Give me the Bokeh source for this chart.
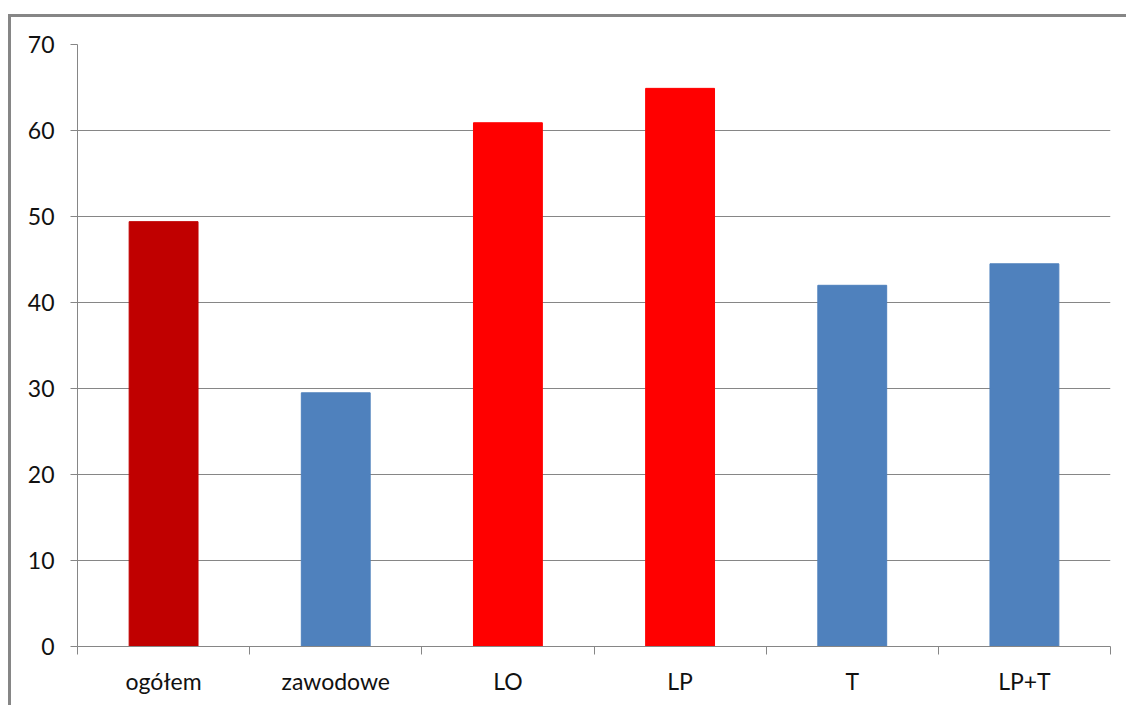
from bokeh.plotting import figure
from bokeh.models import ColumnDataSource, FixedTicker, Range1d, InlineStyleSheet
from bokeh.embed import file_html
from bokeh.resources import INLINE

# Share of students by school type
categories = ["ogółem", "zawodowe", "LO", "LP", "T", "LP+T"]
values = [49.4, 29.5, 60.9, 64.9, 42.0, 44.5]
y_ticks = [0, 10, 20, 30, 40, 50, 60, 70]

bar_colors = ["#C00000", "#4F81BD", "#FF0000", "#FF0000", "#4F81BD", "#4F81BD"]

centers = [i + 0.5 for i in range(len(categories))]
source = ColumnDataSource(dict(x=centers, top=values, color=bar_colors, cat=categories))

GRID = "#868686"
FONT = "Lato"

p = figure(
    width=1126, height=705,
    x_range=Range1d(0, len(categories)), y_range=Range1d(0, 70),
    output_backend="svg", toolbar_location=None,
    min_border_left=77, min_border_right=16, min_border_top=44, min_border_bottom=59,
)
p.outline_line_color = None
p.background_fill_color = "white"
p.border_fill_color = "white"

p.vbar(x="x", top="top", width=0.4, color="color", source=source)

# y axis
p.yaxis.ticker = FixedTicker(ticks=y_ticks)
p.yaxis.axis_line_color = GRID
p.yaxis.major_tick_line_color = GRID
p.yaxis.major_tick_out = 7
p.yaxis.major_tick_in = 0
p.yaxis.minor_tick_line_color = None
p.yaxis.major_label_standoff = 16
p.yaxis.major_label_text_font = FONT
p.yaxis.major_label_text_font_size = "23px"
p.yaxis.major_label_text_color = "#111111"

# x axis: labels at category centres, ticks at category boundaries
p.xaxis.ticker = FixedTicker(ticks=centers, minor_ticks=list(range(len(categories) + 1)))
p.xaxis.major_label_overrides = {c: cat for c, cat in zip(centers, categories)}
p.xaxis.axis_line_color = GRID
p.xaxis.major_tick_line_color = None
p.xaxis.major_tick_out = 8
p.xaxis.minor_tick_line_color = GRID
p.xaxis.minor_tick_out = 8
p.xaxis.minor_tick_in = 0
p.xaxis.major_label_standoff = 12
p.xaxis.major_label_text_font = FONT
p.xaxis.major_label_text_font_size = "23px"
p.xaxis.major_label_text_color = "#111111"

p.xgrid.grid_line_color = None
p.ygrid.ticker = FixedTicker(ticks=y_ticks)
p.ygrid.grid_line_color = GRID
p.ygrid.grid_line_width = 1

# outer chart border (left and top edges)
p.stylesheets = [InlineStyleSheet(css="""
:host { position: relative; }
:host::after {
  content: "";
  position: absolute;
  left: 8px; top: 14px;
  width: calc(100% - 11px); height: calc(100% - 17px);
  border-left: 3px solid #868686;
  border-top: 3px solid #868686;
  pointer-events: none;
}
""")]

open("out.html", "w").write(file_html(p, INLINE))
